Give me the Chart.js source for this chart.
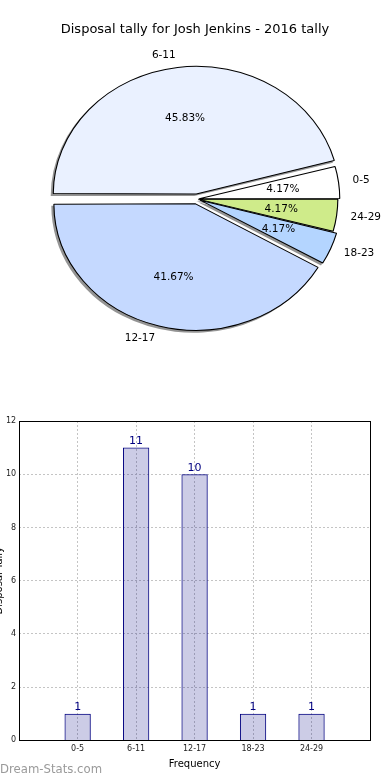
<!DOCTYPE html>
<html>
<head>
<meta charset="utf-8">
<script src="https://cdn.jsdelivr.net/npm/chart.js@4.4.0/dist/chart.umd.min.js"></script>
<style>
  body { margin: 0; background: #fff; }
  #pieBox { position: absolute; left: 0; top: 0; width: 390px; height: 360px; }
  #barBox { position: absolute; left: 0; top: 400px; width: 390px; height: 380px; }
</style>
</head>
<body>
<div id="pieBox"><canvas id="pie"></canvas></div>
<div id="barBox"><canvas id="bar"></canvas></div>
<script>
const categories = ['0-5', '6-11', '12-17', '18-23', '24-29'];
const tallies = [1, 11, 10, 1, 1];
const sliceColours = ['#ffffff', '#eaf1ff', '#c5d9ff', '#b4d5ff', '#cfeb8a'];
const sliceOffsets = [8, 20, 20, 12, 4];
const yTicks = [0, 2, 4, 6, 8, 10, 12];

// matplotlib goes counter-clockwise from 3 o'clock, chart.js goes clockwise
const pieOrder = [4, 3, 2, 1, 0];
const total = tallies.reduce((a, b) => a + b, 0);
const stretchX = 1.12;
const FONT = "'DejaVu Sans', sans-serif";

Chart.defaults.font.family = FONT;
Chart.defaults.color = '#000';

function stretch(ctx, cx) {
  ctx.translate(cx, 0);
  ctx.scale(stretchX, 1);
  ctx.translate(-cx, 0);
}

// same geometry chart.js uses for an offset arc
function arcGeom(arc) {
  const mid = (arc.startAngle + arc.endAngle) / 2;
  const off = (arc.options.offset || 0) / 4;
  const fix = 1 - Math.sin(Math.min(Math.PI, arc.circumference || 0));
  return { mid, off, r: arc.outerRadius + off * fix };
}

const pieExtras = {
  id: 'pieExtras',
  beforeDatasetsDraw(chart) {
    const ctx = chart.ctx;
    const arcs = chart.getDatasetMeta(0).data;
    // shadow underneath every slice
    ctx.save();
    ctx.translate(-2, 2);
    stretch(ctx, arcs[0].x);
    ctx.fillStyle = 'rgba(0,0,0,0.42)';
    arcs.forEach(arc => {
      const g = arcGeom(arc);
      const x = arc.x + Math.cos(g.mid) * g.off;
      const y = arc.y + Math.sin(g.mid) * g.off;
      ctx.beginPath();
      ctx.moveTo(x, y);
      ctx.arc(x, y, g.r + 0.5, arc.startAngle, arc.endAngle);
      ctx.closePath();
      ctx.fill();
    });
    ctx.restore();
    ctx.save();
    stretch(ctx, arcs[0].x);
  },
  afterDatasetsDraw(chart) {
    chart.ctx.restore();
  },
  afterDraw(chart) {
    const ctx = chart.ctx;
    ctx.save();
    ctx.fillStyle = '#000';
    ctx.font = '13px ' + FONT;
    ctx.textAlign = 'center';
    ctx.textBaseline = 'middle';
    ctx.fillText('Disposal tally for Josh Jenkins - 2016 tally', 195, 30);

    ctx.font = '10.5px ' + FONT;
    chart.getDatasetMeta(0).data.forEach((arc, i) => {
      const k = pieOrder[i];
      const g = arcGeom(arc);
      const dx = Math.cos(g.mid), dy = Math.sin(g.mid);
      const lx = arc.x + dx * (g.r * 1.1 + g.off) * stretchX;
      const ly = arc.y + dy * (g.r * 1.1 + g.off);
      ctx.textAlign = dx > 0 ? 'left' : 'right';
      ctx.fillText(categories[k], lx, ly);
      const px = arc.x + dx * (g.r * 0.6 + g.off) * stretchX;
      const py = arc.y + dy * (g.r * 0.6 + g.off);
      ctx.textAlign = 'center';
      ctx.fillText((tallies[k] / total * 100).toFixed(2) + '%', px, py);
    });
    ctx.restore();
  }
};

new Chart(document.getElementById('pie'), {
  type: 'pie',
  data: {
    labels: pieOrder.map(i => categories[i]),
    datasets: [{
      data: pieOrder.map(i => tallies[i]),
      backgroundColor: pieOrder.map(i => sliceColours[i]),
      offset: pieOrder.map(i => sliceOffsets[i]),
      borderColor: '#000',
      borderWidth: 1
    }]
  },
  options: {
    responsive: true,
    maintainAspectRatio: false,
    animation: false,
    rotation: 90,
    radius: 124,
    layout: { padding: { left: 28, right: 24, top: 57, bottom: 19 } },
    plugins: { legend: { display: false }, tooltip: { enabled: false } }
  },
  plugins: [pieExtras]
});

const barExtras = {
  id: 'barExtras',
  afterDatasetsDraw(chart) {
    const ctx = chart.ctx;
    const a = chart.chartArea;
    ctx.save();
    ctx.strokeStyle = '#000';
    ctx.lineWidth = 1;
    ctx.strokeRect(Math.round(a.left) + 0.5, Math.round(a.top) + 0.5,
      Math.round(a.right - a.left), Math.round(a.bottom - a.top));

    ctx.fillStyle = '#000080';
    ctx.font = '11px ' + FONT;
    ctx.textAlign = 'center';
    ctx.textBaseline = 'bottom';
    chart.getDatasetMeta(0).data.forEach((bar, i) => {
      ctx.fillText(String(tallies[i]), bar.x, bar.y - 1);
    });

    // y title sits mostly outside the picture in the original
    ctx.fillStyle = '#000';
    ctx.font = '10px ' + FONT;
    ctx.translate(-1, (a.top + a.bottom) / 2);
    ctx.rotate(-Math.PI / 2);
    ctx.textAlign = 'center';
    ctx.textBaseline = 'middle';
    ctx.fillText('Disposal Tally', 0, 0);
    ctx.restore();

    ctx.save();
    ctx.fillStyle = '#9a9a9a';
    ctx.font = '11.7px ' + FONT;
    ctx.textBaseline = 'middle';
    ctx.fillText('Dream-Stats.com', 0, 370);
    ctx.restore();
  }
};

const gridStyle = { color: '#c4c4c4', lineWidth: 1, drawTicks: false, offset: false };
const borderStyle = { display: false, dash: [2, 2] };

new Chart(document.getElementById('bar'), {
  type: 'bar',
  data: {
    datasets: [{
      data: tallies.map((v, i) => ({ x: i, y: v })),
      backgroundColor: 'rgba(0,0,128,0.2)',
      borderColor: '#000080',
      borderWidth: 1,
      barPercentage: 0.45,
      categoryPercentage: 1
    }]
  },
  options: {
    responsive: true,
    maintainAspectRatio: false,
    animation: false,
    layout: { padding: { left: 3, right: 20, top: 21, bottom: 10 } },
    plugins: { legend: { display: false }, tooltip: { enabled: false } },
    scales: {
      x: {
        type: 'linear',
        offset: false,
        min: -1,
        max: 5,
        ticks: {
          stepSize: 1,
          autoSkip: false,
          maxRotation: 0,
          padding: 4,
          color: '#222',
          font: { size: 8 },
          callback: v => categories[v] || ''
        },
        grid: gridStyle,
        border: borderStyle,
        title: { display: true, text: 'Frequency', font: { size: 10 }, color: '#000', padding: 0 }
      },
      y: {
        min: 0,
        max: 12,
        afterBuildTicks: s => { s.ticks = yTicks.map(v => ({ value: v })); },
        ticks: { padding: 3, color: '#222', font: { size: 8 } },
        grid: gridStyle,
        border: borderStyle
      }
    }
  },
  plugins: [barExtras]
});
</script>
</body>
</html>
